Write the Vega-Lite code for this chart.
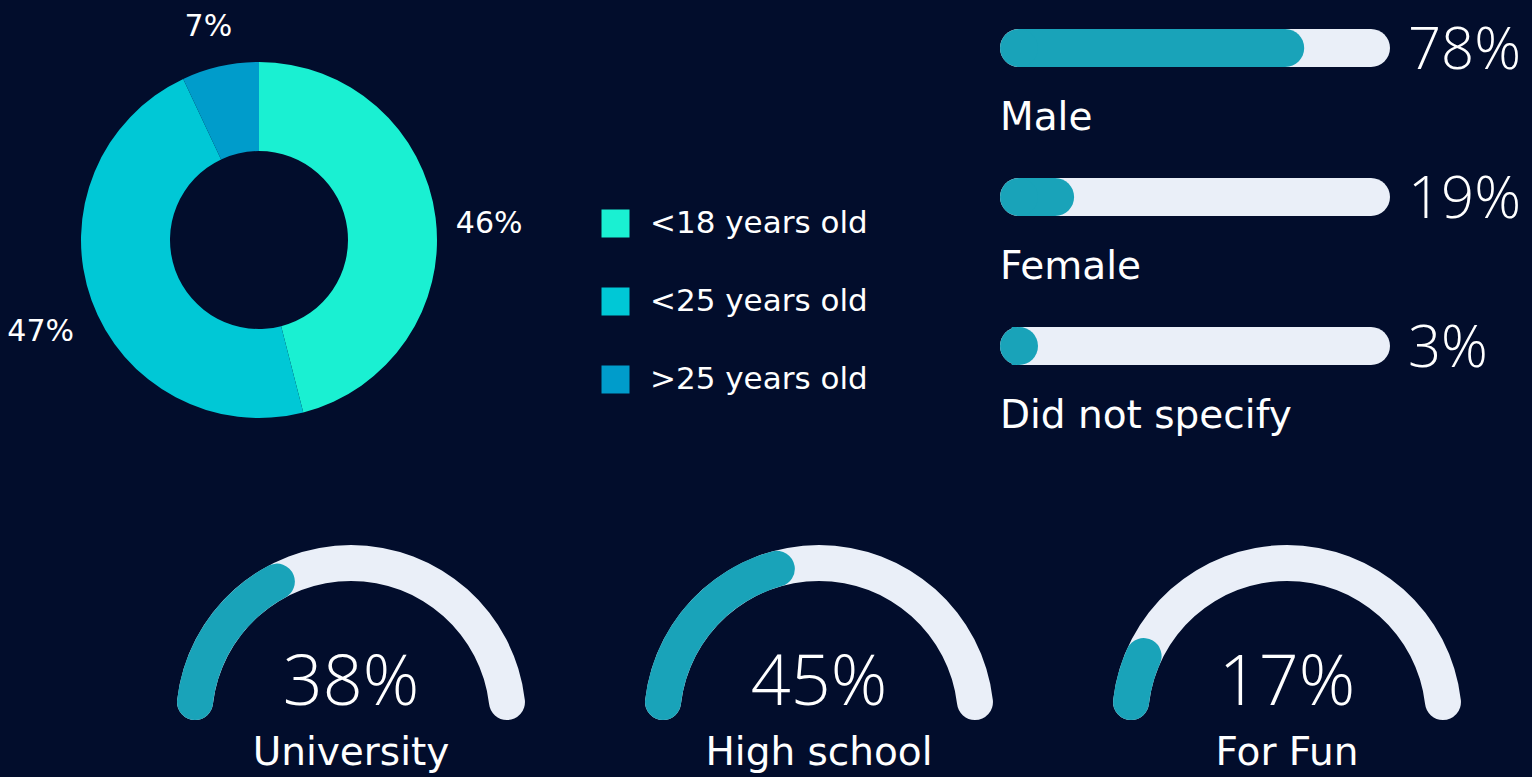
{
  "$schema": "https://vega.github.io/schema/vega-lite/v6.json",
  "background": "#020d2c",
  "padding": 0,
  "spacing": 65,
  "config": {
    "view": {"stroke": null},
    "font": "DejaVu Sans",
    "legend": {"labelFont": "DejaVu Sans"}
  },
  "vconcat": [
    {
      "bounds": "flush",
      "spacing": 482,
      "hconcat": [
        {
          "width": 518,
          "height": 480,
          "data": {
            "values": [
              {"category": "<18 years old", "share": 0.46, "rank": 1},
              {"category": "<25 years old", "share": 0.47, "rank": 2},
              {"category": ">25 years old", "share": 0.07, "rank": 3}
            ]
          },
          "encoding": {
            "theta": {"field": "share", "type": "quantitative", "stack": true},
            "order": {"field": "rank", "type": "quantitative"}
          },
          "layer": [
            {
              "mark": {"type": "arc", "innerRadius": 89, "outerRadius": 178},
              "encoding": {
                "color": {
                  "field": "category",
                  "type": "nominal",
                  "scale": {
                    "domain": ["<18 years old", "<25 years old", ">25 years old"],
                    "range": ["#1af0d2", "#00c8d6", "#009ccb"]
                  },
                  "legend": {
                    "orient": "none",
                    "legendX": 600,
                    "legendY": 208,
                    "title": null,
                    "padding": 0,
                    "symbolType": "square",
                    "symbolSize": 784,
                    "symbolStrokeWidth": 0,
                    "symbolOpacity": 1,
                    "labelFontSize": 31,
                    "labelColor": "#ffffff",
                    "labelOffset": 19,
                    "labelLimit": 400,
                    "rowPadding": 46
                  }
                }
              }
            },
            {
              "mark": {"type": "text", "radius": 232, "fontSize": 30, "color": "#ffffff", "dy": 13, "baseline": "middle"},
              "encoding": {
                "detail": {"field": "category", "type": "nominal"},
                "text": {"field": "share", "type": "quantitative", "format": ".0%"}
              }
            }
          ]
        },
        {
          "width": 390,
          "height": 394,
          "data": {
            "values": [
              {"gender": "Male", "share": 0.78},
              {"gender": "Female", "share": 0.19},
              {"gender": "Did not specify", "share": 0.03}
            ]
          },
          "encoding": {
            "y": {
              "field": "gender",
              "type": "nominal",
              "sort": null,
              "axis": null,
              "scale": {"paddingInner": 0.745, "paddingOuter": 0.195}
            }
          },
          "layer": [
            {
              "mark": {"type": "bar", "cornerRadius": 19, "color": "#eaeff8"},
              "encoding": {
                "x": {"datum": 1, "type": "quantitative", "scale": {"domain": [0, 1], "nice": false}, "axis": null}
              }
            },
            {
              "mark": {"type": "bar", "cornerRadiusTopRight": 19, "cornerRadiusBottomRight": 19, "x2Offset": 19, "color": "#19a3b9"},
              "encoding": {
                "x": {"field": "share", "type": "quantitative", "stack": null},
                "x2": {"datum": 0}
              }
            },
            {
              "mark": {"type": "point", "shape": "circle", "filled": true, "size": 1444, "opacity": 1, "color": "#19a3b9", "xOffset": 19},
              "encoding": {
                "x": {"datum": 0, "type": "quantitative"}
              }
            },
            {
              "mark": {"type": "text", "align": "left", "baseline": "alphabetic", "dx": 18, "dy": 21, "fontSize": 58, "font": "Open Sans", "fontWeight": 300, "color": "#ffffff"},
              "encoding": {
                "x": {"datum": 1, "type": "quantitative"},
                "text": {"field": "share", "type": "quantitative", "format": ".0%"}
              }
            },
            {
              "mark": {"type": "text", "align": "left", "baseline": "alphabetic", "dy": 82, "fontSize": 39, "color": "#ffffff"},
              "encoding": {
                "x": {"datum": 0, "type": "quantitative"},
                "text": {"field": "gender", "type": "nominal"}
              }
            }
          ]
        }
      ]
    },
    {
      "width": 1532,
      "height": 114,
      "data": {
        "values": [
          {"purpose": "University", "share": 0.38},
          {"purpose": "High school", "share": 0.45},
          {"purpose": "For Fun", "share": 0.17}
        ]
      },
      "encoding": {
        "x": {
          "field": "purpose",
          "type": "nominal",
          "sort": null,
          "axis": null,
          "scale": {"type": "band", "paddingInner": 0, "paddingOuter": 0.13675, "align": 0.9141}
        }
      },
      "layer": [
        {
          "mark": {"type": "arc", "innerRadius": 139, "outerRadius": 175, "cornerRadius": 18, "color": "#eaeff8", "theta": -1.570796, "theta2": 1.570796},
          "encoding": {}
        },
        {
          "mark": {"type": "arc", "innerRadius": 139, "outerRadius": 175, "cornerRadius": 18, "color": "#19a3b9"},
          "encoding": {
            "theta": {"field": "share", "type": "quantitative", "stack": null, "scale": {"domain": [0, 1], "range": [-1.570796, 1.570796]}}
          }
        },
        {
          "mark": {"type": "text", "baseline": "alphabetic", "dy": -15, "fontSize": 70, "font": "Open Sans", "fontWeight": 300, "color": "#ffffff"},
          "encoding": {
            "text": {"field": "share", "type": "quantitative", "format": ".0%"}
          }
        },
        {
          "mark": {"type": "text", "baseline": "alphabetic", "dy": 45, "fontSize": 39, "color": "#ffffff"},
          "encoding": {
            "text": {"field": "purpose", "type": "nominal"}
          }
        }
      ]
    }
  ]
}
